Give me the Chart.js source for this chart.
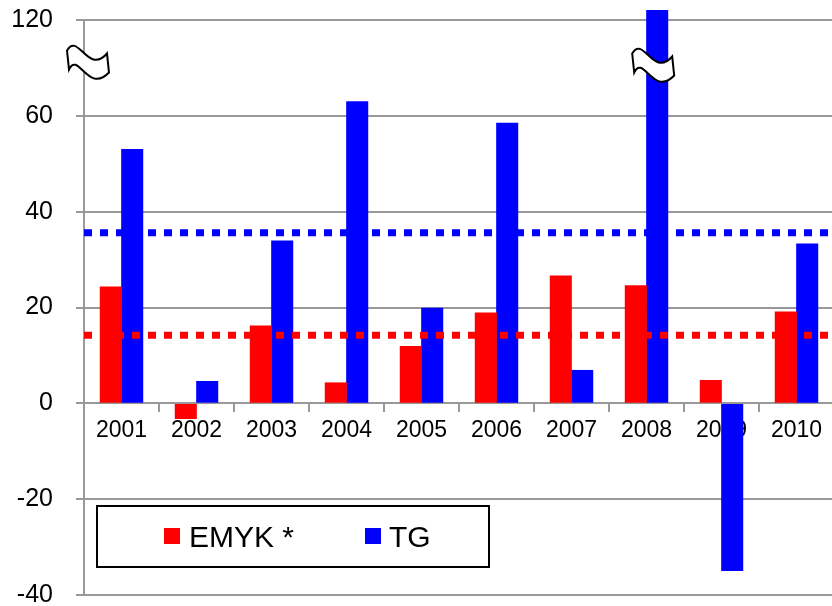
<!DOCTYPE html>
<html><head><meta charset="utf-8">
<script src="https://cdn.jsdelivr.net/npm/chart.js@4/dist/chart.umd.min.js"></script>
<style>html,body{margin:0;padding:0;background:#fff;overflow:hidden;}#wrap{width:834px;height:606px;}</style>
</head><body><div id="wrap"><canvas id="c" width="834" height="606"></canvas></div>
<script>
const categories = ['2001','2002','2003','2004','2005','2006','2007','2008','2009','2010'];
const emykValues = [24.3, -3.2, 16.2, 4.3, 11.9, 18.9, 26.6, 24.6, 4.8, 19.1];
const tgValues = [53.0, 4.6, 33.9, 63.0, 19.9, 58.5, 6.9, 122, -34.9, 33.3];
const emykAverage = 14.2;
const tgAverage = 35.6;
const yTickLabels = ['-40','-20','0','20','40','60','120'];
const seriesNames = ['EMYK *', 'TG'];
const seriesColors = ['#ff0000', '#0000ff'];
// axis break: the scale position 80 is labelled 120
const breakShown = 80, breakReal = 120;
function toScale(v){ return v > breakShown + 20 ? v - (breakReal - breakShown) : v; }

const FONT = "'Liberation Sans', Arial, sans-serif";
Chart.defaults.font.family = FONT;
Chart.defaults.color = '#000';

function drawBreak(ctx, cx, cy){
  ctx.save();
  ctx.translate(cx, cy);
  ctx.beginPath();
  ctx.moveTo(-21, -15);
  ctx.bezierCurveTo(-10, -34, 0, 10, 19, -12);
  ctx.lineTo(21, 7);
  ctx.bezierCurveTo(0, 29, -10, -15, -19, 4);
  ctx.closePath();
  ctx.fillStyle = '#fff';
  ctx.fill();
  ctx.lineWidth = 2;
  ctx.strokeStyle = '#000';
  ctx.stroke();
  ctx.restore();
}

const overlay = {
  id: 'overlay',
  afterDraw(chart){
    const ctx = chart.ctx;
    const y = chart.scales.y;
    const area = chart.chartArea;
    const by = y.getPixelForValue(70.5);
    drawBreak(ctx, area.left + 4, by);
    const meta = chart.getDatasetMeta(3);
    const bar = meta.data[7];
    drawBreak(ctx, bar.x - 4, by + 3);
    ctx.save();
    const bx = area.left + 13, bTop = 506, bw = 392, bh = 61;
    ctx.fillStyle = '#fff';
    ctx.fillRect(bx, bTop, bw, bh);
    ctx.lineWidth = 2;
    ctx.strokeStyle = '#000';
    ctx.strokeRect(bx, bTop, bw, bh);
    const items = [{sx: 164, tx: 189}, {sx: 365, tx: 389}];
    ctx.font = "30px " + FONT;
    ctx.textBaseline = 'alphabetic';
    items.forEach((it, i) => {
      ctx.fillStyle = seriesColors[i];
      ctx.fillRect(it.sx, 528, 16, 16);
      ctx.fillStyle = '#000';
      ctx.fillText(seriesNames[i], it.tx, 547);
    });
    ctx.restore();
  }
};

new Chart(document.getElementById('c'), {
  type: 'bar',
  data: {
    labels: categories,
    datasets: [
      { type: 'line', label: 'avgE', data: [{x:0, y:emykAverage},{x:1, y:emykAverage}], xAxisID: 'xl',
        borderColor: seriesColors[0], borderWidth: 7, borderDash: [8,8], borderCapStyle: 'butt',
        pointRadius: 0, fill: false, order: 0 },
      { type: 'line', label: 'avgT', data: [{x:0, y:tgAverage},{x:1, y:tgAverage}], xAxisID: 'xl',
        borderColor: seriesColors[1], borderWidth: 7, borderDash: [8,8], borderCapStyle: 'butt',
        pointRadius: 0, fill: false, order: 0 },
      { label: seriesNames[0], data: emykValues.map(toScale), backgroundColor: seriesColors[0],
        barThickness: 21.4, order: 1, clip: false },
      { label: seriesNames[1], data: tgValues.map(toScale), backgroundColor: seriesColors[1],
        barThickness: 21.4, order: 1, clip: false }
    ]
  },
  options: {
    responsive: false,
    animation: false,
    devicePixelRatio: 1,
    layout: { padding: { top: 20, bottom: 11, left: 0, right: 0 } },
    plugins: { legend: { display: false }, tooltip: { enabled: false } },
    scales: {
      x: {
        type: 'category',
        position: { y: 0 },
        offset: true,
        z: 1,
        grid: { drawOnChartArea: false, offset: true, tickLength: 8, color: '#999', lineWidth: 2 },
        border: { color: '#999', width: 2 },
        ticks: { color: '#000', font: { size: 23 }, padding: 6, maxRotation: 0, autoSkip: false }
      },
      xl: { type: 'linear', min: 0, max: 1, display: false, offset: false },
      y: {
        min: -40, max: 80,
        ticks: { stepSize: 20, callback: (v, i) => yTickLabels[i], color: '#000', font: { size: 25 }, padding: 23 },
        grid: { color: '#999', lineWidth: 2, tickLength: 8 },
        border: { color: '#999', width: 2 },
        afterFit: s => { s.width = 84; s.paddingTop = 0; s.paddingBottom = 0; }
      }
    }
  },
  plugins: [overlay]
});
</script>
</body></html>
